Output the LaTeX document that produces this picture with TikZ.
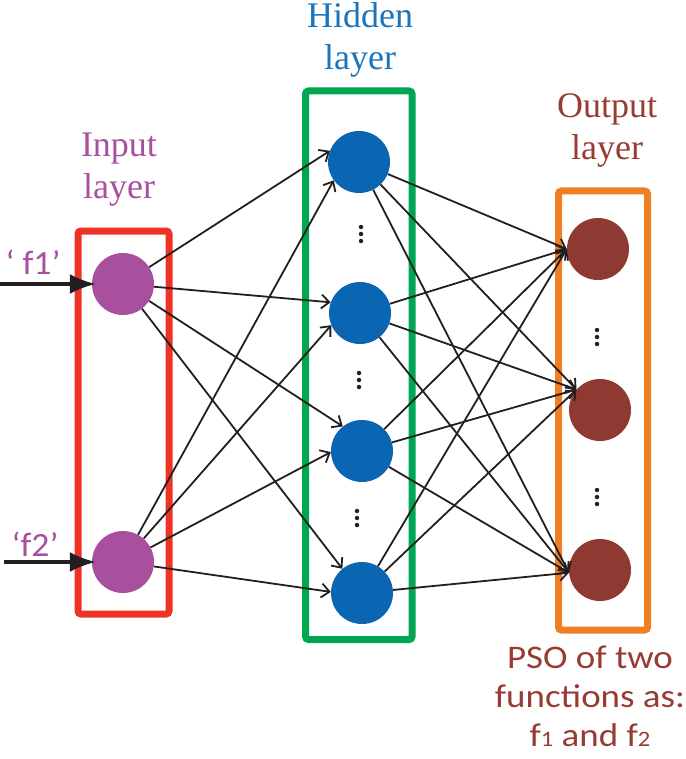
\documentclass[tikz,border=0pt]{standalone}
\usepackage{fontspec}
\usetikzlibrary{arrows.meta}
\newfontfamily\headfont{Liberation Serif}
\newfontfamily\calfont{Carlito}
\definecolor{inpurple}{HTML}{A84F9E}
\definecolor{hidblue}{HTML}{0A66B3}
\definecolor{hidtext}{HTML}{1B75BC}
\definecolor{outbrown}{HTML}{8E3A32}
\definecolor{outtext}{HTML}{973B33}
\definecolor{boxred}{HTML}{EE3226}
\definecolor{boxgreen}{HTML}{00A651}
\definecolor{boxorange}{HTML}{F07F24}
\definecolor{edgecol}{HTML}{231F20}
\tikzset{
  neuron/.style={circle, minimum size=62pt, inner sep=0pt, draw=none},
  layerbox/.style={line width=7pt, rounded corners=3pt},
  conn/.style={edgecol, line width=1.8pt, -{Straight Barb[length=8pt,width=14pt,line width=1.8pt]}},
  inarrow/.style={edgecol, line width=3.2pt, -{Latex[length=26pt,width=20pt]}},
  headlbl/.style={font=\headfont\fontsize{36}{42}\selectfont, align=center, inner sep=0pt},
  flbl/.style={font=\calfont\fontsize{34}{34}\selectfont, text=inpurple, anchor=base, xscale=1.05, inner sep=0pt},
  dotmark/.style={circle, fill=edgecol, inner sep=0pt, minimum size=4.5pt}
}
\begin{document}
\begin{tikzpicture}[x=1pt,y=-1pt]
\useasboundingbox (0,0) rectangle (685,759);
% boxes
\draw[layerbox, boxred] (78,231) rectangle (169,614);
\draw[layerbox, boxgreen] (305.5,91) rectangle (412,639.5);
\draw[layerbox, boxorange] (558.5,191) rectangle (647.5,630);
% neurons
\node[neuron, fill=inpurple] (i1) at (123,284) {};
\node[neuron, fill=inpurple] (i2) at (123,562) {};
\node[neuron, fill=hidblue] (h1) at (359,162) {};
\node[neuron, fill=hidblue] (h2) at (360,313) {};
\node[neuron, fill=hidblue] (h3) at (362,451) {};
\node[neuron, fill=hidblue] (h4) at (362,593) {};
\node[neuron, fill=outbrown] (o1) at (598,249) {};
\node[neuron, fill=outbrown] (o2) at (600,410) {};
\node[neuron, fill=outbrown] (o3) at (600,570) {};
% dots
\foreach \nm/\x/\y in {a/361/234, b/359/380, c/357/518, d/597/337, e/597/497}{
  \node[dotmark] (\nm1) at (\x,\y-7) {};
  \node[dotmark] (\nm2) at (\x,\y) {};
  \node[dotmark] (\nm3) at (\x,\y+7) {};
}
% input arrows
\coordinate (f1in) at (0,284);
\coordinate (f2in) at (4,562);
\draw[inarrow] (f1in) -- ([xshift=4pt]i1.west);
\draw[inarrow] (f2in) -- ([xshift=4pt]i2.west);
% input -> hidden
\draw[conn] (i1) -- (h1.159);
\draw[conn] (i2) -- (h1.216);
\draw[conn] (i1) -- (h2.160);
\draw[conn] (i2) -- (h2.203);
\draw[conn] (i1) -- (h3.128);
\draw[conn] (i2) -- (h3.182);
\draw[conn] (i1) -- (h4.129);
\draw[conn] (i2) -- (h4.178);
% hidden -> output
\foreach \h in {h1,h2,h3,h4}{
  \draw[conn] (\h) -- (o1.180);
  \draw[conn] (\h) -- (o2.139);
  \draw[conn] (\h) -- (o3.185);
}
% labels (anchor=base is the baseline of the last line)
\node[headlbl, text=inpurple, anchor=base] (lin) at (119,199) {Input\\layer};
\node[headlbl, text=hidtext, anchor=base] (lhid) at (360,70) {Hidden\\layer};
\node[headlbl, text=outtext, anchor=base] (lout) at (607,160) {Output\\layer};
\node[flbl] (lf1) at (33,274) {‘ f1’};
\node[flbl] (lf2) at (35,556) {‘f2’};
\node[font=\calfont\fontsize{33}{39}\selectfont, text=outtext, anchor=base, xscale=1.12, align=center, inner sep=0pt] (lpso) at (590,746)
  {PSO of two\\functions as:\\f{\fontsize{22}{22}\selectfont 1} and f{\fontsize{22}{22}\selectfont 2}};
\end{tikzpicture}
\end{document}
